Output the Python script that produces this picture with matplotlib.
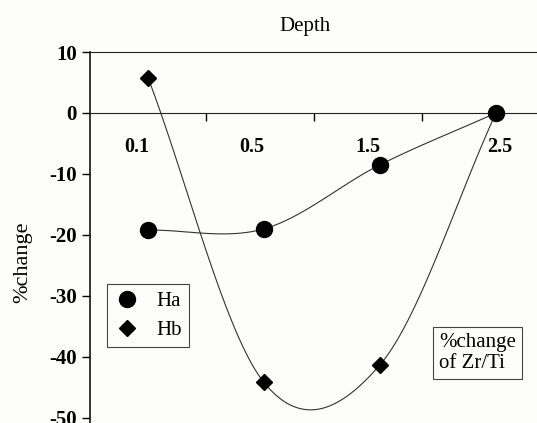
import numpy as np
import matplotlib
matplotlib.use('Agg')
import matplotlib.pyplot as plt
from matplotlib.transforms import ScaledTranslation

plt.rcParams['font.family'] = 'Liberation Serif'

depth = ['0.1', '0.5', '1.5', '2.5']
ha = [-19.2, -19.0, -8.5, 0.0]
hb = [5.8, -44.2, -41.3, 0.0]
y_ticks = [10, 0, -10, -20, -30, -40, -50]


def smooth(xs, ys, n=40):
    # excel-like smoothed line: cubic hermite with catmull-rom tangents
    xs = np.asarray(xs, float)
    ys = np.asarray(ys, float)
    m = np.zeros_like(ys)
    m[1:-1] = (ys[2:] - ys[:-2]) / 2
    m[0] = ys[1] - ys[0]
    m[-1] = ys[-1] - ys[-2]
    px, py = [], []
    for i in range(len(xs) - 1):
        t = np.linspace(0, 1, n)
        h00 = 2 * t**3 - 3 * t**2 + 1
        h10 = t**3 - 2 * t**2 + t
        h01 = -2 * t**3 + 3 * t**2
        h11 = t**3 - t**2
        px.append(xs[i] + t * (xs[i + 1] - xs[i]))
        py.append(h00 * ys[i] + h10 * m[i] + h01 * ys[i + 1] + h11 * m[i + 1])
    return np.concatenate(px), np.concatenate(py)


x = np.arange(len(depth))

fig = plt.figure(figsize=(5.37, 4.23), dpi=100)
fig.patch.set_facecolor('#fdfdfb')
ax = fig.add_axes([0.1676, -0.0166, 0.864, 0.8936])
ax.set_facecolor('#fdfdfb')

cx, cy = smooth(x, hb)
ax.plot(cx, cy, color='#333333', lw=0.8, zorder=2)
cx, cy = smooth(x, ha)
ax.plot(cx, cy, color='#333333', lw=0.8, zorder=2)

ax.plot(x, hb, 'D', color='black', ms=8.5, ls='none', label='Hb', zorder=3)
ax.plot(x, ha, 'o', color='black', ms=11.5, ls='none', label='Ha', zorder=4)

ax.set_xlim(-0.5, 3.5)
ax.set_ylim(-52, 10)

ax.spines['right'].set_visible(False)
ax.spines['bottom'].set_position(('data', 0))
ax.spines['bottom'].set_color('#222222')
ax.spines['top'].set_color('#222222')
ax.spines['left'].set_linewidth(1.1)

ax.set_yticks(y_ticks)
ax.set_yticklabels([str(v) for v in y_ticks], fontsize=15, fontweight='bold')
ax.tick_params(axis='y', direction='out', length=5.8, width=1, pad=3.5)

ax.set_xticks(x)
ax.set_xticklabels(depth, fontsize=14.5, fontweight='bold')
ax.set_xticks([0.5, 1.43, 2.36], minor=True)
ax.tick_params(axis='x', which='major', length=0, pad=17)
ax.tick_params(axis='x', which='minor', direction='out', length=5.8, width=1)
label_shift = [-8, -9, -9, 3]
for lab, dx in zip(ax.get_xticklabels(), label_shift):
    lab.set_transform(lab.get_transform() + ScaledTranslation(dx / 72, 0, fig.dpi_scale_trans))

ax.set_title('Depth', fontsize=15, x=0.463, pad=15)
ax.set_ylabel('%change', fontsize=16)
ax.yaxis.set_label_coords(-0.125, 0.444)

h, l = ax.get_legend_handles_labels()
leg = ax.legend(h[::-1], l[::-1], loc='upper left', bbox_to_anchor=(0.0366, 0.386),
                borderaxespad=0, fancybox=False, framealpha=1, edgecolor='#444444',
                fontsize=15, handlelength=1.2, handletextpad=0.8, labelspacing=0.45,
                borderpad=0.35, numpoints=1)
leg.get_frame().set_linewidth(0.8)
leg.get_frame().set_facecolor('#fdfdfb')

ax.text(0.752, 0.204, '%change\nof Zr/Ti', transform=ax.transAxes, fontsize=15,
        va='center', ha='left', linespacing=1.1,
        bbox=dict(boxstyle='square,pad=0.3', fc='#fdfdfb', ec='#444444', lw=0.8))

fig.savefig('out.png', dpi=100, facecolor=fig.get_facecolor())
